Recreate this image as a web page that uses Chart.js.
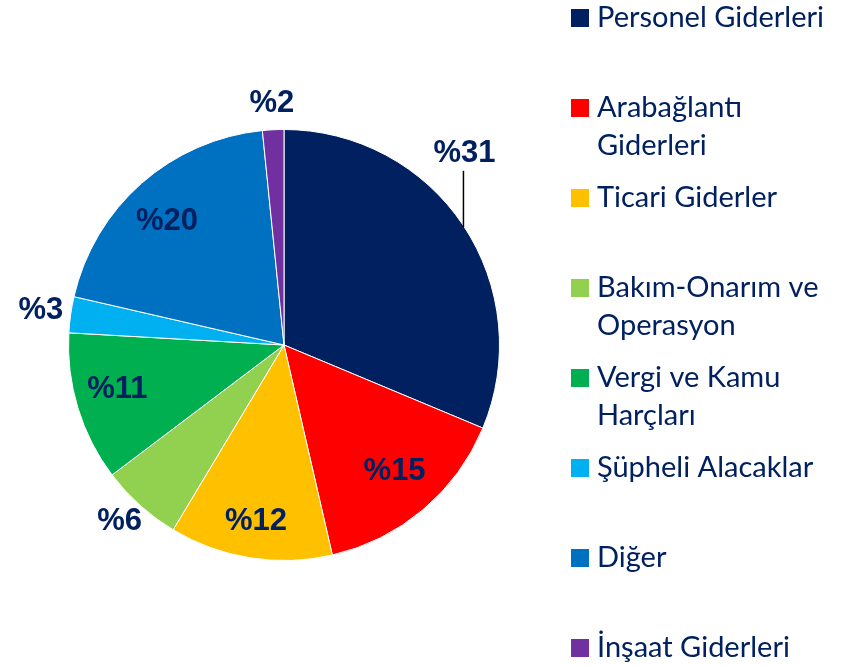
<!DOCTYPE html>
<html>
<head>
<meta charset="utf-8">
<script src="https://cdn.jsdelivr.net/npm/chart.js@4.4.0/dist/chart.umd.min.js"></script>
<style>
  html, body { margin: 0; padding: 0; background: #fff; }
  #wrap { width: 849px; height: 666px; }
</style>
</head>
<body>
<div id="wrap"><canvas id="pieChart" width="849" height="666"></canvas></div>
<script>
// kategoriler (legend'daki satır kırılımlarıyla)
const labels = [
    ['Personel Giderleri'],
    ['Arabağlantı', 'Giderleri'],
    ['Ticari Giderler'],
    ['Bakım-Onarım ve', 'Operasyon'],
    ['Vergi ve Kamu', 'Harçları'],
    ['Şüpheli Alacaklar'],
    ['Diğer'],
    ['İnşaat Giderleri'],
];

// yüzde payları (dilim açılarından okunan)
const values = [31.3, 15.1, 12.2, 6.1, 11.2, 2.7, 19.8, 1.6];

const color_lst = ['#002060', '#FF0000', '#FFC000', '#92D050', '#00B050', '#00B0F0', '#0070C0', '#7030A0'];

// etiketin merkeze uzaklığı (yarıçap oranı) ve açı kaydırması (derece)
const labelRadius = [1.22, 0.78, 0.83, 1.12, 0.8, 1.14, 0.79, 1.12];
const labelShift = [-13, -1, 0, 1, 2, 0, -2, 0];

const textColor = '#002060';

// yüzde etiketleri
const pieLabels = {
    id: 'pieLabels',
    afterDatasetsDraw(chart) {
        const ctx = chart.ctx;
        const arcs = chart.getDatasetMeta(0).data;
        ctx.save();
        ctx.font = 'bold 31px "Liberation Sans", Arial, sans-serif';
        ctx.fillStyle = textColor;
        ctx.textAlign = 'center';
        ctx.textBaseline = 'middle';
        arcs.forEach((arc, i) => {
            const mid = (arc.startAngle + arc.endAngle) / 2 + labelShift[i] * Math.PI / 180;
            const r = arc.outerRadius * labelRadius[i];
            const x = arc.x + Math.cos(mid) * r;
            const y = arc.y + Math.sin(mid) * r;
            ctx.fillText('%' + Math.round(values[i]), x, y);
            if (labelRadius[i] > 1.15) {
                // kılavuz çizgisi: etiketin altından dilimin kenarına
                const dx = x - arc.x;
                const edgeY = arc.y - Math.sqrt(Math.max(arc.outerRadius * arc.outerRadius - dx * dx, 0));
                ctx.strokeStyle = '#000';
                ctx.lineWidth = 1.5;
                ctx.beginPath();
                ctx.moveTo(x - 1, y + 17);
                ctx.lineTo(x - 1, edgeY);
                ctx.stroke();
            }
        });
        ctx.restore();
    }
};

// sağdaki legend
const sideLegend = {
    id: 'sideLegend',
    afterDraw(chart) {
        const ctx = chart.ctx;
        ctx.save();
        ctx.font = '29px Lato, "Open Sans", sans-serif';
        ctx.textBaseline = 'middle';
        ctx.textAlign = 'left';
        labels.forEach((lines, i) => {
            const y = 18 + i * 90;
            ctx.fillStyle = color_lst[i];
            ctx.fillRect(571, y - 9, 18, 18);
            ctx.fillStyle = textColor;
            lines.forEach((t, j) => ctx.fillText(t, 597, y + j * 38));
        });
        ctx.restore();
    }
};

const config_pie = {
    type: 'pie',
    data: {
        labels: labels.map(l => l.join(' ')),
        datasets: [{
            data: values,
            backgroundColor: color_lst,
            borderColor: '#ffffff',
            borderWidth: 1,
            hoverOffset: 0,
        }]
    },
    options: {
        responsive: false,
        animation: false,
        layout: {
            padding: { left: 68, right: 349, top: 129, bottom: 105 }
        },
        plugins: {
            legend: { display: false },
            tooltip: { enabled: false },
        },
    },
    plugins: [pieLabels, sideLegend],
};

new Chart(document.querySelector('#pieChart').getContext('2d'), config_pie);
</script>
</body>
</html>
